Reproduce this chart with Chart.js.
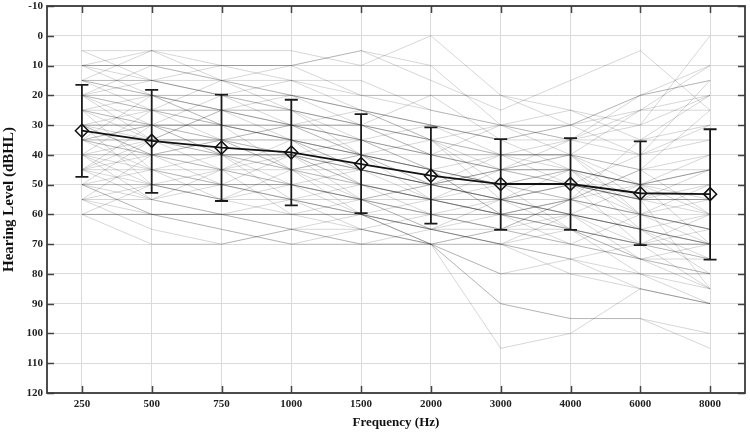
<!DOCTYPE html>
<html>
<head>
<meta charset="utf-8">
<script src="https://cdn.jsdelivr.net/npm/chart.js@4"></script>
<style>
html,body{margin:0;padding:0;background:#fff;}
#wrap{width:750px;height:432px;}
</style>
</head>
<body>
<div id="wrap"><canvas id="c" width="750" height="432"></canvas></div>
<script>
const frequencies = ['250','500','750','1000','1500','2000','3000','4000','6000','8000'];
const yTicks = [-10,0,10,20,30,40,50,60,70,80,90,100,110,120];

const meanLevel = [31.9, 35.3, 37.6, 39.2, 43.1, 47.0, 49.8, 49.8, 52.9, 53.2];
const errLow    = [16.5, 18.2, 19.8, 21.5, 26.3, 30.8, 34.7, 34.4, 35.5, 31.4];
const errHigh   = [47.4, 52.8, 55.5, 57.0, 59.6, 63.1, 65.2, 65.2, 70.3, 75.2];

const subjects = [
  [10,5,5,5,10,0,20,25,30,20],
  [5,5,10,10,5,15,25,15,5,25],
  [15,15,10,10,20,20,20,30,20,15],
  [10,10,15,20,25,30,35,30,20,10],
  [15,20,20,25,30,35,40,35,30,0],
  [20,15,20,15,15,25,30,30,40,15],
  [20,25,25,30,35,40,45,40,25,25],
  [25,30,30,35,40,45,50,55,60,55],
  [30,30,35,35,40,45,50,45,50,60],
  [35,35,40,40,45,50,55,50,55,60],
  [40,45,45,50,55,60,60,55,60,65],
  [45,50,50,55,55,60,65,60,65,70],
  [50,55,60,60,65,70,90,95,95,100],
  [55,60,60,65,70,70,105,100,85,90],
  [60,60,65,70,65,70,65,70,75,80],
  [60,70,70,65,70,65,60,65,70,85],
  [35,45,55,60,60,70,80,80,80,85],
  [30,40,50,55,60,65,70,75,85,90],
  [25,35,40,45,50,55,60,65,75,80],
  [40,40,45,45,50,55,55,60,70,75],
  [45,45,50,50,55,55,60,60,65,70],
  [50,50,55,55,60,65,70,65,70,70],
  [35,40,40,40,45,50,50,50,55,55],
  [30,35,35,40,45,50,45,45,50,50],
  [25,25,30,30,35,40,45,45,50,45],
  [20,20,25,25,30,35,40,40,45,40],
  [15,15,20,20,25,30,35,35,40,30],
  [10,10,10,15,20,25,30,35,35,35],
  [35,30,30,30,35,40,45,50,55,50],
  [40,35,35,35,40,45,50,55,45,60],
  [30,25,25,30,30,35,50,45,60,65],
  [50,45,40,45,45,50,55,50,60,65],
  [45,40,40,40,50,55,60,55,65,60],
  [55,55,50,50,55,60,55,60,65,70],
  [60,60,60,60,60,65,65,65,70,70],
  [20,30,35,40,50,55,60,60,65,70],
  [15,20,30,35,45,50,55,55,60,65],
  [35,35,35,30,30,40,40,40,45,45],
  [50,60,60,55,50,55,55,50,55,55],
  [25,20,25,25,40,45,50,50,55,55],
  [10,15,15,15,25,35,30,25,35,30],
  [45,55,60,65,65,60,65,70,75,75],
  [30,30,30,35,35,45,40,40,50,45],
  [55,50,50,55,60,70,70,75,80,80],
  [40,50,55,50,45,50,45,45,50,55],
  [50,60,65,70,70,70,90,95,95,105],
  [20,10,15,10,5,10,30,40,55,45],
  [35,40,45,50,55,65,70,80,85,90],
  [5,15,20,30,25,35,45,50,40,35],
  [15,5,15,25,30,20,35,45,50,70],
  [20,35,25,20,30,40,30,35,20,15],
  [30,50,45,35,45,55,45,40,60,50],
  [40,25,30,45,40,35,55,60,50,40],
  [50,35,45,60,55,50,40,45,65,75],
  [55,40,35,45,60,65,55,45,55,85],
  [60,50,55,45,40,45,60,70,60,70],
  [45,30,20,25,35,45,60,55,45,25],
  [35,20,30,35,50,60,65,55,35,20],
  [25,45,50,40,35,30,40,50,70,75],
  [15,25,35,45,55,50,45,35,25,10],
  [10,20,25,35,40,50,55,60,75,85],
  [20,25,15,20,25,30,35,30,25,20],
  [30,40,35,30,40,55,60,65,70,60],
  [40,55,45,40,55,65,70,60,65,80],
  [55,65,70,65,60,55,50,65,75,70],
  [25,30,40,50,60,70,80,75,70,65],
  [45,35,25,30,40,50,55,65,80,90],
  [35,30,40,55,65,70,65,55,50,45]
];

const serif = "'Liberation Serif', 'Times New Roman', serif";

const datasets = [];
subjects.forEach(s => {
  datasets.push({
    data: s,
    borderColor: 'rgba(0,0,0,0.16)',
    borderWidth: 1,
    pointRadius: 0,
    tension: 0,
    order: 3
  });
});
frequencies.forEach((f, i) => {
  datasets.push({
    data: [{x: f, y: errLow[i]}, {x: f, y: errHigh[i]}],
    borderColor: '#1a1a1a',
    borderWidth: 1.8,
    pointStyle: 'line',
    pointRadius: 6.5,
    pointBorderWidth: 1.8,
    pointBorderColor: '#1a1a1a',
    order: 1
  });
});
datasets.push({
  data: meanLevel,
  borderColor: '#111',
  borderWidth: 1.8,
  pointStyle: 'rectRot',
  pointRadius: 6.5,
  pointBorderWidth: 1.5,
  pointBorderColor: '#111',
  pointBackgroundColor: 'rgba(0,0,0,0)',
  order: 0
});

const frame = {
  id: 'frame',
  afterDatasetsDraw(chart) {
    const {ctx, chartArea: a, scales} = chart;
    ctx.save();
    ctx.strokeStyle = '#444';
    ctx.lineWidth = 1.5;
    const L = 7;
    ctx.beginPath();
    scales.x.ticks.forEach((t, i) => {
      const px = Math.round(scales.x.getPixelForTick(i)) + 0.5;
      ctx.moveTo(px, a.bottom); ctx.lineTo(px, a.bottom - L);
      ctx.moveTo(px, a.top); ctx.lineTo(px, a.top + L);
    });
    scales.y.ticks.forEach((t, i) => {
      const py = Math.round(scales.y.getPixelForTick(i)) + 0.5;
      ctx.moveTo(a.left, py); ctx.lineTo(a.left + L, py);
      ctx.moveTo(a.right, py); ctx.lineTo(a.right - L, py);
    });
    ctx.stroke();
    ctx.lineWidth = 1.8;
    ctx.strokeStyle = '#3a3a3a';
    ctx.strokeRect(a.left, a.top, a.right - a.left, a.bottom - a.top);
    ctx.restore();
  }
};

new Chart(document.getElementById('c'), {
  type: 'line',
  data: { labels: frequencies, datasets },
  options: {
    responsive: false,
    animation: false,
    layout: { autoPadding: false, padding: { top: 6, right: 5, left: 0, bottom: 0 } },
    plugins: { legend: { display: false }, tooltip: { enabled: false } },
    scales: {
      x: {
        type: 'category',
        offset: true,
        grid: { color: '#dadada', lineWidth: 1, drawTicks: false, offset: false },
        border: { display: false },
        ticks: { color: '#222', font: { family: serif, size: 11, weight: 'bold' }, padding: 5, maxRotation: 0 },
        title: { display: true, text: 'Frequency (Hz)', color: '#111', font: { family: serif, size: 13, weight: 'bold' }, padding: { top: 2, bottom: 2 } },
        afterFit(s) { s.height = 39; s.paddingLeft = 0; s.paddingRight = 0; }
      },
      y: {
        reverse: true,
        min: -10,
        max: 120,
        afterBuildTicks(s) { s.ticks = yTicks.map(v => ({ value: v })); },
        grid: { color: '#dadada', lineWidth: 1, drawTicks: false },
        border: { display: false },
        ticks: { color: '#222', font: { family: serif, size: 11, weight: 'bold' }, padding: 4 },
        title: { display: true, text: 'Hearing Level (dBHL)', color: '#111', font: { family: serif, size: 15, weight: 'bold' }, padding: { top: 0, bottom: 0 } },
        afterFit(s) { s.width = 47; s.paddingTop = 0; s.paddingBottom = 0; }
      }
    }
  },
  plugins: [frame]
});
</script>
</body>
</html>
